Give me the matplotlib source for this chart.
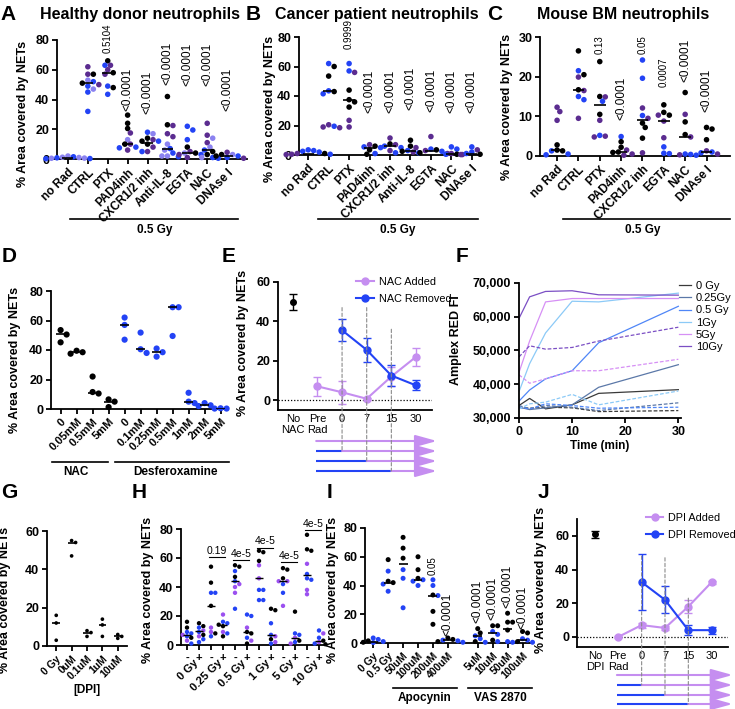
#! /usr/bin/env python3

import numpy as np
import matplotlib
matplotlib.use("Agg")
from matplotlib import pyplot as plt
from matplotlib.patches import ConnectionPatch
from matplotlib.lines import Line2D
from matplotlib.transforms import blended_transform_factory

plt.rcParams['font.family'] = ['Liberation Sans', 'DejaVu Sans']
plt.rcParams['axes.linewidth'] = 1.3

W, H = 735, 709

COL = {"k": "#000000", "p": "#5b2c90", "b": "#2343f5", "l": "#8b82f0", "v": "#9b50f0"}
PINK = "#c58ef0"
BLUE = "#2343f5"
GRAY = "#8a8a8a"

#============================================================
# Data
#============================================================

A_groups = ["no Rad", "CTRL", "PTX", "PAD4inh", "CXCR1/2 inh", "Anti-IL-8", "EGTA", "NAC", "DNAse I"]
A_vals = [[2, 1.5, 1, 0.8, 0.5, 0.3, 1.2, 0.6, 0.2],
          [62, 57, 57, 53, 52, 51, 50, 49, 47, 45, 32],
          [66, 63, 63, 60, 58, 57, 49, 48, 43.5],
          [29.5, 24, 20.5, 17.5, 13, 10, 10, 8, 7.5, 6],
          [18, 17, 14, 13, 12, 12, 10, 8, 5, 5],
          [42, 23, 22.5, 17, 15, 10, 7, 6, 4, 2, 1.5, 2],
          [22, 19.5, 13, 8, 5, 4, 4, 3, 3, 1],
          [24, 16, 14, 11, 8, 6, 5, 3, 1, 1, 0.5],
          [4.5, 3, 3, 2, 2, 1, 0.5]]
A_cols = ["lblblbllb", "ppklbkpblbb", "kpbpkpbkb", "kkkplpkbbp", "blkpkbkppb",
          "kkppplblblbl", "bbbkplkpbp", "pplplbkkblb", "plkbkbp"]
A_meds = [0.7, 51, 58, 10, 11, 7, 4, 6, 2]
A_p = ["", "", "0.5104", "<0.0001", "<0.0001", "<0.0001", "<0.0001", "<0.0001", "<0.0001"]

B_groups = A_groups
B_vals = [[3.5, 3, 2.5, 2, 1, 1, 0.5, 0.5, 0.3],
          [62, 60, 53.5, 43.5, 43, 41.5, 20.5, 19.5, 19, 18.5],
          [62, 57, 56, 44, 37.5, 36, 32.5, 23.5, 19],
          [7, 6, 5.5, 5, 3.5, 1, 0.5],
          [11.5, 7.5, 7, 6, 5, 3, 1.5],
          [10, 6, 5, 3, 2, 1.5, 2.5],
          [12.5, 4, 3, 2.5, 1.5, 3.5, 1],
          [5.5, 4, 1, 0.5, 0.5, 0.3],
          [5.5, 3.5, 2, 0.5, 0.3, 1]]
B_cols = ["bbbbpkpbp", "bkkbkbpbpp", "bbpkkkkpp", "pkbbkbk", "pkpbbpb",
          "kkpbpbk", "pbpbkkp", "bbpkbp", "bpbkpb"]
B_meds = [1, 43.5, 37.5, 5, 6, 2.5, 3, 0.5, 1]
B_p = ["", "", "0.9999", "<0.0001", "<0.0001", "<0.0001", "<0.0001", "<0.0001", "<0.0001"]

C_groups = ["no Rad", "CTRL", "PTX", "PAD4inh", "CXCR1/2 inh", "EGTA", "NAC", "DNAse I"]
C_vals = [[12.3, 11.2, 9, 2.8, 1.3, 1.3, 1.5, 0.5, 0.3],
          [26.5, 21.5, 20.5, 19.9, 16.7, 16.5, 15, 14.2, 9.5],
          [23.8, 15, 14.9, 13.8, 10.5, 9, 5.2, 5, 4.8],
          [4.9, 3.6, 2.2, 1.5, 1.0, 0.9, 0.5, 0.2],
          [24.2, 19.6, 12.1, 10.2, 9.5, 8.3, 7.2, 4.5, 0.8],
          [12.9, 11, 10.3, 10.3, 8.8, 4.6, 2.3, 0.7, 0.6],
          [16, 10.5, 8.6, 5.4, 4.8, 0.5, 0.4, 0.3, 0.2],
          [7.2, 6.8, 4.1, 1.3, 1.0, 0.8, 0.5]]
C_cols = ["pppkkbkbb", "kbkpkpbbp", "kkpbkpbpp", "bkkpkkpp", "bbpbpkkkp",
          "kkkpppbbb", "kpkkpbbpb", "kkkpbbp"]
C_meds = [1.5, 16.7, 12.8, 0.9, 9.0, 8.8, 4.9, 1.1]
C_p = ["", "", "0.13", "<0.0001", "0.05", "0.0007", "<0.0001", "<0.0001"]

D_groups = ["0", "0.05mM", "0.5mM", "5mM", "0", "0.1mM", "0.25mM", "0.5mM", "1mM", "2mM", "5mM"]
D_vals = [[53.5, 50.5, 45.2], [37.5, 39.5, 38.5], [22, 10.5, 11.5], [6.5, 5, 1.3],
          [62, 57, 47], [51.8, 38, 40.5], [41, 35.5, 38.5], [69, 69, 49.5],
          [11, 4, 5], [4, 2.5, 2], [0.5, 0.3, 0.3]]
D_cols = ["kkk"] * 4 + ["bbb"] * 7
D_meds = [51, 38.5, 11, 5, 57, 40.5, 38.5, 69, 5, 2.5, 0.3]

E_ticks = ["No\nNAC", "Pre\nRad", "0", "7", "15", "30"]
E_ctrl = (50, 4)
E_add_x = [1, 2, 3, 4, 5]
E_add = [7, 4, 0.7, 12, 22]
E_add_err = [5, 5.8, 0.5, 5, 4.5]
E_rem_x = [2, 3, 4, 5]
E_rem = [35.5, 25.5, 12.5, 7.5]
E_rem_err = [5.5, 6, 5.5, 2.5]

F_time = [0, 2, 5, 10, 15, 30]
F_doses = ["0 Gy", "0.25Gy", "0.5 Gy", "1Gy", "5Gy", "10Gy"]
F_colors = ["#3a3a3a", "#5b78a8", "#4f86f7", "#8ccaf7", "#d690f5", "#7b4fc4"]
F_solid = [[33.7, 35.8, 32.7, 33.9, 37.3, 38.4],
           [33.2, 32.5, 33.0, 33.9, 39.1, 45.8],
           [35.0, 38.3, 41.6, 44.0, 52.3, 63.1],
           [37.8, 46.1, 55.2, 64.6, 64.4, 67.0],
           [43.5, 52.8, 64.4, 65.4, 65.4, 65.4],
           [59.5, 65.9, 67.5, 67.7, 66.5, 66.4]]
F_dash = [[33.2, 32.9, 33.2, 33.0, 31.9, 32.2],
          [33.7, 32.7, 33.7, 33.2, 32.2, 34.5],
          [33.2, 32.7, 34.2, 33.7, 32.9, 33.2],
          [32.7, 34.2, 34.7, 37.0, 33.9, 38.0],
          [42.8, 40.3, 41.6, 44.0, 44.0, 47.4],
          [48.1, 51.4, 50.4, 50.9, 52.8, 56.9]]

G_groups = ["0 Gy", "0uM", "0.1uM", "1uM", "10uM"]
G_vals = [[16, 12, 3], [55, 54, 47], [8, 7, 5], [14, 11, 5], [6, 5, 4]]
G_meds = [12, 54, 7, 11, 5]

H_doses = ["0 Gy", "0.25 Gy", "0.5 Gy", "1 Gy", "5 Gy", "10 Gy"]
H_vals = [[16, 12, 9, 8, 7, 6, 5, 3, 1],
          [15, 13, 12, 10, 9, 7, 6, 4, 2],
          [54, 43, 36, 36, 27, 12, 9, 8, 6],
          [21, 16, 15, 14, 13, 9, 8, 6],
          [55, 54, 51, 47, 44, 42, 40, 36, 25],
          [21, 20, 12, 9, 8, 5, 3, 1],
          [65, 64, 58, 55, 46, 38, 38, 31, 31],
          [25, 24, 15, 7, 6, 4, 2, 1],
          [53, 52, 46, 44, 44, 42, 36, 27],
          [23, 8, 7, 5, 3, 2, 1],
          [76, 66, 65, 56, 49, 46, 45, 38, 35],
          [10, 8, 5, 3, 2, 1, 0.5]]
H_cols = ["kkbbvbkvb", "kkbvbkvbb", "kkbbkvvkb", "vbbkkvbk", "kkbkbvvvb",
          "bbvkkbvk", "kkkvvbbbb", "kkbbvkvb", "kkkvvbbv", "kbbvkbv",
          "kkkvbbbvv", "bvbkvbk"]
H_meds = [7, 10, 27, 14, 44, 9, 46, 7, 44, 5, 48, 3]
H_p = ["0.19", "4e-5", "4e-5", "4e-5", "4e-5"]

I_groups = ["0 Gy", "0.5 Gy", "50uM", "100uM", "200uM", "400uM", "5uM", "10uM", "50uM", "100uM"]
I_vals = [[3.5, 2.5, 1.5, 1, 0.5, 0.3],
          [58, 50, 43, 42, 41, 36],
          [73.5, 66, 59, 51, 45, 24.5],
          [60, 51, 45, 44, 43, 40],
          [44, 40, 33.4, 33, 22, 13],
          [3.5, 2.5, 2, 1.5, 1, 0.5],
          [10, 7, 5, 3, 1, 0.5],
          [12, 12, 8, 6, 2, 1],
          [20.7, 14.5, 14.5, 9, 1, 0.5],
          [8, 7, 3, 2, 1, 0.5]]
I_cols = ["bbkbkb", "kbkkbb", "kkkbbb", "kkkbbb", "bbkbkk", "kkbbkb",
          "kkbbkb", "kkbbkb", "kkkkbb", "kkbbkb"]
I_meds = [1, 42, 55, 44, 33, 2, 5, 7, 9.5, 2]
I_p = ["", "", "", "", "0.05", "<0.0001", "<0.0001", "<0.0001", "<0.0001", "<0.0001"]

J_ticks = ["No\nDPI", "Pre\nRad", "0", "7", "15", "30"]
J_ctrl = (61, 2)
J_add_x = [1, 2, 3, 4, 5]
J_add = [0, 7, 5.3, 18, 32.5]
J_add_err = [0.5, 1.5, 1, 4, 0.8]
J_rem_x = [2, 3, 4, 5]
J_rem = [32.5, 22, 4, 4]
J_rem_err = [16.5, 8, 3, 2]

#============================================================
# Helpers
#============================================================

fig = plt.figure(figsize=(W / 100, H / 100), dpi=100)


def px_axes(l, t, r, b):
    ax = fig.add_axes([l / W, 1 - b / H, (r - l) / W, (b - t) / H])
    ax.spines[['top', 'right']].set_visible(False)
    ax.tick_params(width=1.3, length=3.5, labelsize=9, pad=2)
    return ax


def fy(y):
    return 1 - y / H


def fig_line(x0, x1, y, lw=1.2):
    fig.add_artist(Line2D([x0 / W, x1 / W], [fy(y), fy(y)], color="k", lw=lw))


def fig_text(x, y, s, **kw):
    fig.text(x / W, fy(y), s, ha="center", va="center", **kw)


def bold_y(ax):
    for lab in ax.get_yticklabels():
        lab.set_fontweight("bold")


def ylabel_px(ax, text, x, y, size=9):
    bb = ax.get_position()
    ax.set_ylabel(text, fontsize=size, fontweight="bold")
    ax.yaxis.set_label_coords((x / W - bb.x0) / bb.width, (fy(y) - bb.y0) / bb.height)


def swarm(ax, vals, dot_px):
    bb = ax.get_position()
    y0, y1 = ax.get_ylim()
    x0, x1 = ax.get_xlim()
    ys = np.asarray(vals, float) * bb.height * H / (y1 - y0)
    xunit = bb.width * W / (x1 - x0)
    cands = [0.0]
    for k in range(1, 30):
        cands += [k * 0.5, -k * 0.5]
    placed = []
    offs = np.zeros(len(ys))
    for i in np.argsort(-ys, kind="stable"):
        for c in cands:
            x = c * dot_px
            if all((x - px) ** 2 + (ys[i] - py) ** 2 >= (0.9 * dot_px) ** 2 for px, py in placed):
                break
        placed.append((x, ys[i]))
        offs[i] = x / xunit
    return offs


def dot_plot(ax, pos, vals, cols, meds, dot_px, s, mw=0.55, lw=1.2):
    for x, v, c, m in zip(pos, vals, cols, meds):
        off = swarm(ax, v, dot_px)
        ax.scatter(x + off, v, s=s, c=[COL[ch] for ch in c], edgecolors="none",
                   zorder=3, clip_on=False)
        ax.plot([x - mw / 2, x + mw / 2], [m, m], color="k", lw=lw, zorder=4,
                solid_capstyle="butt")


def cat_ticks(ax, pos, labels, size=8.5):
    ax.set_xticks(pos)
    ax.set_xticklabels(labels, rotation=45, ha="right", rotation_mode="anchor",
                       fontsize=size, fontweight="bold")


def p_texts(ax, pos, ps, ys):
    for x, p, y in zip(pos, ps, ys):
        if p:
            size = 8.5 if p.startswith("<") else 7
            ax.text(x, y, p, rotation=90, ha="center", va="bottom", fontsize=size)


def timeline(ax, rows_y, stops, start, end):
    tr = blended_transform_factory(ax.transData, fig.transFigure)
    for yy, stop in zip(rows_y, stops):
        a0 = start
        if stop is not None:
            ax.plot([start, stop], [fy(yy), fy(yy)], color=BLUE, lw=1.5,
                    transform=tr, clip_on=False, solid_capstyle="butt")
            a0 = stop
        ax.annotate("", xy=(end, fy(yy)), xytext=(a0, fy(yy)), xycoords=tr,
                    textcoords=tr, annotation_clip=False,
                    arrowprops=dict(arrowstyle="-|>,head_length=0.65,head_width=0.18",
                                    color=PINK, lw=1.5, shrinkA=0, shrinkB=0,
                                    mutation_scale=20))


def vdash(ax, x, ytop, ybot_px):
    tr = blended_transform_factory(ax.transData, fig.transFigure)
    con = ConnectionPatch(xyA=(x, ytop), coordsA=ax.transData, xyB=(x, fy(ybot_px)),
                          coordsB=tr, color=GRAY, lw=0.8, ls=(0, (3, 2)), zorder=1)
    fig.add_artist(con)


def time_panel(ax, ticks, ctrl, ax_x, a, a_err, r_x, r, r_err):
    ax.errorbar([0], [ctrl[0]], yerr=[ctrl[1]], fmt="o", color="k", ms=4,
                capsize=3, elinewidth=1, capthick=1)
    ax.errorbar(ax_x, a, yerr=a_err, fmt="-o", color=PINK, ms=5, capsize=3,
                lw=1.5, elinewidth=1, capthick=1, zorder=3)
    ax.errorbar(r_x, r, yerr=r_err, fmt="-o", color=BLUE, ms=5, capsize=3,
                lw=1.5, elinewidth=1, capthick=1, zorder=3)
    ax.axhline(0, color="k", lw=0.9, ls=(0, (1, 1.5)), zorder=0)
    ax.set_xticks(range(len(ticks)))
    ax.set_xticklabels(ticks, fontsize=8, linespacing=1.05)
    ax.tick_params(axis="x", length=0, pad=3)
    return [Line2D([], [], color=PINK, marker="o", ms=5, lw=1.5),
            Line2D([], [], color=BLUE, marker="o", ms=5, lw=1.5)]

#============================================================
# A, B, C
#============================================================

top = [
    ("A", "Healthy donor neutrophils", A_groups, A_vals, A_cols, A_meds, A_p,
     [71, 32, 30, 50, 49, 49, 32], (57, 40, 247, 159), (-0.55, 9.0), 80, 20,
     (29, 114), (8, 15), 140, (70, 238), 155),
    ("B", "Cancer patient neutrophils", B_groups, B_vals, B_cols, B_meds, B_p,
     [72, 28.5, 28.5, 30.5, 29, 28.5, 28.5], (299, 37, 480, 155), (-0.45, 8.4), 80, 20,
     (276, 109), (253, 14), 377, (318, 478), 398),
    ("C", "Mouse BM neutrophils", C_groups, C_vals, C_cols, C_meds, C_p,
     [25.8, 9, 25.8, 17.4, 18.6, 11.1], (540, 37, 730, 156), (-0.8, 8.1), 30, 10,
     (513, 107), (495, 14), 623, (563, 730), 643),
]
for (lab, title, groups, vals, cols, meds, ps, pys, box, xl, ymax, ystep,
     ylp, labp, tx, ul, ulx) in top:
    ax = px_axes(*box)
    ax.set_xlim(*xl)
    ax.set_ylim(0, ymax)
    ax.set_yticks(np.arange(0, ymax + 1, ystep))
    bold_y(ax)
    pos = list(range(len(groups)))
    dot_plot(ax, pos, vals, cols, meds, 5.5, 16)
    cat_ticks(ax, pos, groups)
    p_texts(ax, [p for p, s in zip(pos, ps) if s], [s for s in ps if s], pys)
    ylabel_px(ax, "% Area covered by NETs", ylp[0], ylp[1])
    fig_text(labp[0], labp[1], lab, fontsize=15, fontweight="bold")
    fig_text(tx, 14, title, fontsize=11.5, fontweight="bold")
    fig_line(ul[0], ul[1], 219)
    fig_text(ulx, 230, "0.5 Gy", fontsize=8.5, fontweight="bold")

#============================================================
# D
#============================================================

ax = px_axes(51, 291, 227, 409)
ax.set_xlim(-0.6, 10.4)
ax.set_ylim(0, 80)
ax.set_yticks([0, 20, 40, 60, 80])
bold_y(ax)
pos = list(range(len(D_groups)))
dot_plot(ax, pos, D_vals, D_cols, D_meds, 6, 20, mw=0.6)
cat_ticks(ax, pos, D_groups, size=8)
ylabel_px(ax, "% Area covered by NETs", 21, 360)
fig_text(9, 257, "D", fontsize=15, fontweight="bold")
fig_line(52, 108, 462)
fig_text(76, 472, "NAC", fontsize=8.5, fontweight="bold")
fig_line(115, 229, 462)
fig_text(175, 472, "Desferoxamine", fontsize=8.5, fontweight="bold")

#============================================================
# E
#============================================================

ax = px_axes(278, 282, 432, 410)
ax.set_xlim(-0.6, 5.65)
ax.set_ylim(-5, 60)
ax.set_yticks([0, 20, 40, 60])
bold_y(ax)
hd = time_panel(ax, E_ticks, E_ctrl, E_add_x, E_add, E_add_err, E_rem_x, E_rem, E_rem_err)
ax.legend(hd, ["NAC Added", "NAC Removed"], loc="upper left",
          bbox_to_anchor=(356 / W, fy(277)), bbox_transform=fig.transFigure,
          frameon=False, fontsize=7.8, handlelength=1.7, handletextpad=0.4,
          labelspacing=0.65, borderaxespad=0, borderpad=0)
ylabel_px(ax, "% Area covered by NETs", 249, 343)
fig_text(229, 257, "E", fontsize=15, fontweight="bold")
vdash(ax, 2, 47, 451)
vdash(ax, 3, 47, 461)
vdash(ax, 4, 36, 471)
timeline(ax, [441, 451, 461, 471], [None, 2, 3, 4], 0.95, 5.85)

#============================================================
# F
#============================================================

ax = px_axes(519, 283, 681, 418)
ax.set_xlim(0, 30.5)
ax.set_ylim(30000, 70000)
ax.set_yticks(np.arange(30000, 70001, 10000))
ax.set_yticklabels(["30,000", "40,000", "50,000", "60,000", "70,000"])
ax.set_xticks([0, 10, 20, 30])
for lab in ax.get_xticklabels() + ax.get_yticklabels():
    lab.set_fontweight("bold")
for c, sol, das, lab in zip(F_colors, F_solid, F_dash, F_doses):
    ax.plot(F_time, np.array(sol) * 1000, color=c, lw=0.9, label=lab)
    ax.plot(F_time, np.array(das) * 1000, color=c, lw=0.9, ls=(0, (3, 1.5)))
ax.legend(loc="upper left", bbox_to_anchor=(679 / W, fy(281)),
          bbox_transform=fig.transFigure, frameon=False, fontsize=8,
          handlelength=1.1, handletextpad=0.4, labelspacing=0.2,
          borderaxespad=0, borderpad=0)
ax.set_xlabel("Time (min)", fontsize=8.5, fontweight="bold", labelpad=2)
ylabel_px(ax, "Amplex RED FI", 462, 340)
fig_text(462, 257, "F", fontsize=15, fontweight="bold")

#============================================================
# G
#============================================================

ax = px_axes(47, 531, 127, 646)
ax.set_xlim(-0.6, 4.6)
ax.set_ylim(0, 60)
ax.set_yticks([0, 20, 40, 60])
bold_y(ax)
pos = list(range(len(G_groups)))
dot_plot(ax, pos, G_vals, ["kkk"] * 5, G_meds, 4, 7, mw=0.5)
cat_ticks(ax, pos, G_groups, size=7.5)
ax.set_xlabel("[DPI]", fontsize=8.5, fontweight="bold", labelpad=2)
ylabel_px(ax, "% Area covered by NETs", 11, 600)
fig_text(9, 493, "G", fontsize=15, fontweight="bold")

#============================================================
# H
#============================================================

ax = px_axes(181, 529, 325, 645)
ax.set_xlim(-0.5, 11.5)
ax.set_ylim(0, 80)
ax.set_yticks([0, 20, 40, 60, 80])
bold_y(ax)
pos = list(range(12))
dot_plot(ax, pos, H_vals, H_cols, H_meds, 4.3, 10, mw=0.6, lw=1)
ax.set_xticks(pos)
ax.set_xticklabels(["-", "+"] * 6, fontsize=8, fontweight="bold")
for i, d in enumerate(H_doses):
    ax.text(2 * i + 0.5, -9, d, rotation=45, ha="right", va="top",
            rotation_mode="anchor", fontsize=8, fontweight="bold")
for i, (p, yb) in enumerate(zip(H_p, [60.5, 58.5, 67, 57, 79])):
    x0 = 2 * i + 2 - 0.2
    ax.plot([x0, x0 + 1.4], [yb, yb], color="k", lw=0.8, clip_on=False)
    ax.text(x0 + 0.7, yb + 1, p, ha="center", va="bottom", fontsize=7.5)
ylabel_px(ax, "% Area covered by NETs", 154, 590)
fig_text(139, 493, "H", fontsize=15, fontweight="bold")

#============================================================
# I
#============================================================

ax = px_axes(365, 528, 530, 643)
ax.set_xlim(-0.55, 10.5)
ax.set_ylim(0, 80)
ax.set_yticks([0, 20, 40, 60, 80])
bold_y(ax)
pos = [0, 1, 2, 3, 4, 5, 7, 8, 9, 10]
dot_plot(ax, pos, I_vals, I_cols, I_meds, 5, 13, mw=0.6)
cat_ticks(ax, pos, I_groups, size=7.5)
p_texts(ax, [4, 5, 7, 8, 9, 10], I_p[4:], [47, 5, 14, 16, 24, 10])
fig_line(393, 457, 688)
fig_text(425, 698, "Apocynin", fontsize=8.5, fontweight="bold")
fig_line(468, 532, 688)
fig_text(500, 698, "VAS 2870", fontsize=8.5, fontweight="bold")
ylabel_px(ax, "% Area covered by NETs", 339, 590)
fig_text(330, 493, "I", fontsize=15, fontweight="bold")

#============================================================
# J
#============================================================

ax = px_axes(577, 519, 728, 647)
ax.set_xlim(-0.77, 5.7)
ax.set_ylim(-6, 70)
ax.set_yticks([0, 20, 40, 60])
bold_y(ax)
hd = time_panel(ax, J_ticks, J_ctrl, J_add_x, J_add, J_add_err, J_rem_x, J_rem, J_rem_err)
ax.legend(hd, ["DPI Added", "DPI Removed"], loc="upper left",
          bbox_to_anchor=(646 / W, fy(513)), bbox_transform=fig.transFigure,
          frameon=False, fontsize=7.8, handlelength=1.6, handletextpad=0.4,
          labelspacing=0.65, borderaxespad=0, borderpad=0)
ylabel_px(ax, "% Area covered by NETs", 547, 580)
fig_text(543, 493, "J", fontsize=15, fontweight="bold")
vdash(ax, 2, 48, 685)
vdash(ax, 3, 47, 695)
vdash(ax, 4, 23, 704)
timeline(ax, [675, 685, 695, 704], [None, 2, 3, 4], 0.94, 5.9)

fig.savefig("out.png", dpi=100)
